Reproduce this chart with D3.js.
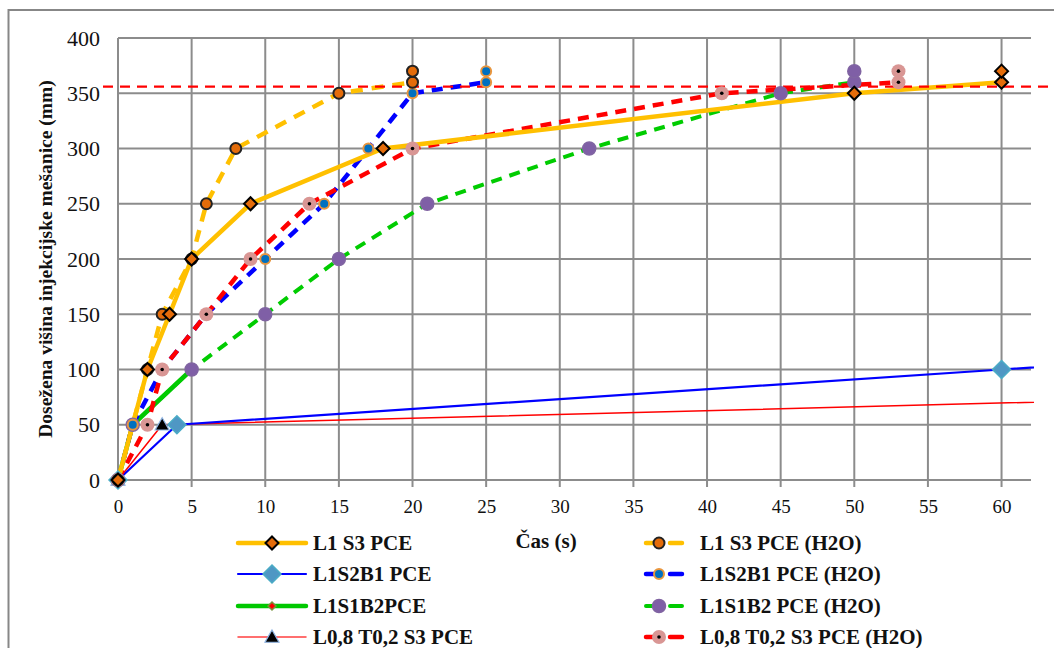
<!DOCTYPE html>
<html><head><meta charset="utf-8">
<script src="https://cdn.jsdelivr.net/npm/d3@7/dist/d3.min.js"></script>
<style>body{margin:0;background:#fff}svg{display:block}
text{font-family:"Liberation Serif","DejaVu Serif",serif !important;}</style>
</head><body>
<svg id="c" width="1054" height="648"></svg>
<script>
// ---- data ----
const xTicks = [0,5,10,15,20,25,30,35,40,45,50,55,60];
const yTicks = [0,50,100,150,200,250,300,350,400];
const refLevel = 356;

const s1_t = [0,2,3.5,5,9,18,50,60];           const s1_h = [0,100,150,200,250,300,350,360];
const s1_extraT = [60];                         const s1_extraH = [370];
const s2_t = [0,4,60,90];                        const s2_h = [0,50,100,127];
const s3_t = [0,1,5];                            const s3_h = [0,50,100];
const s4_t = [0,3,90];                           const s4_h = [0,50,80];
const s5_t = [0,2,3,5,6,8,15,20];                const s5_h = [0,100,150,200,250,300,350,360];
const s5_extraT = [20];                          const s5_extraH = [370];
const s6_t = [0,1,3,6,10,14,17,20,25];           const s6_h = [0,50,100,150,200,250,300,350,360];
const s6_extraT = [25];                          const s6_extraH = [370];
const s7_t = [0,1,5,10,15,21,32,45,50];          const s7_h = [0,50,100,150,200,250,300,350,360];
const s7_extraT = [50];                          const s7_extraH = [370];
const s8_t = [0,2,3,6,9,13,20,41,53];            const s8_h = [0,50,100,150,200,250,300,350,360];
const s8_extraT = [53];                          const s8_extraH = [370];

const legendLeft = ["L1 S3 PCE","L1S2B1 PCE","L1S1B2PCE","L0,8 T0,2 S3 PCE"];
const legendRight = ["L1 S3 PCE (H2O)","L1S2B1 PCE (H2O)","L1S1B2 PCE (H2O)","L0,8 T0,2 S3 PCE (H2O)"];

// ---- drawing ----
const svg = d3.select("#c");
const x = d3.scaleLinear().domain([0,62]).range([118,1031]);
const y = d3.scaleLinear().domain([0,400]).range([480,38]);

// outer frame
svg.append("rect").attr("x",8.5).attr("y",10).attr("width",1100).attr("height",700)
  .attr("fill","none").attr("stroke","#878787").attr("stroke-width",2);

// grid
const g = svg.append("g");
g.selectAll(".hg").data(yTicks).join("line")
  .attr("x1",x(0)).attr("x2",x(62)).attr("y1",d=>y(d)).attr("y2",d=>y(d))
  .attr("stroke","#8c8c8c").attr("stroke-width",2);
g.selectAll(".vg").data(xTicks).join("line")
  .attr("x1",d=>x(d)).attr("x2",d=>x(d)).attr("y1",y(400)).attr("y2",y(0)+7)
  .attr("stroke","#8c8c8c").attr("stroke-width",2);

// axes labels via d3 axes
const yAxis = d3.axisLeft(y).tickValues(yTicks).tickSize(0).tickPadding(18);
const ya = svg.append("g").attr("transform",`translate(${x(0)},0)`).call(yAxis);
ya.select(".domain").remove();
ya.selectAll("text").attr("font-size",22).attr("fill","#111");
const xAxis = d3.axisBottom(x).tickValues(xTicks).tickSize(0).tickPadding(20);
const xa = svg.append("g").attr("transform",`translate(0,${y(0)})`).call(xAxis);
xa.select(".domain").remove();
xa.selectAll("text").attr("font-size",19).attr("fill","#111");

svg.append("text").attr("transform","translate(52,259) rotate(-90)").attr("text-anchor","middle")
  .attr("font-weight","bold").attr("font-size",19.5).attr("fill","#111")
  .text("Dosežena višina injekcijske mešanice (mm)");
svg.append("text").attr("x",546).attr("y",548).attr("text-anchor","middle")
  .attr("font-weight","bold").attr("font-size",21).attr("fill","#111")
  .text("Čas (s)");

// clip
svg.append("clipPath").attr("id","clip").append("rect").attr("x",100).attr("y",0).attr("width",934).attr("height",600);

const line = d3.line().x(d=>x(d[0])).y(d=>y(d[1]));
const zip = (a,b)=>a.map((v,i)=>[v,b[i]]);
const L = svg.append("g").attr("clip-path","url(#clip)");

// horizontal reference
svg.append("line").attr("x1",103).attr("x2",1050).attr("y1",y(refLevel)).attr("y2",y(refLevel))
  .attr("stroke","#ff0000").attr("stroke-width",2.2).attr("stroke-dasharray","10,7");

const series = [
  {t:s3_t,h:s3_h,color:"#00c800",w:4.5,dash:null},
  {t:s4_t,h:s4_h,color:"#ff0000",w:1.5,dash:null},
  {t:s2_t,h:s2_h,color:"#0000ff",w:2.2,dash:null},
  {t:s7_t,h:s7_h,color:"#00cc00",w:4,dash:"11,8"},
  {t:s6_t,h:s6_h,color:"#0000ff",w:4.5,dash:"11,8"},
  {t:s8_t,h:s8_h,color:"#ff0000",w:4.5,dash:"11,8"},
  {t:s5_t,h:s5_h,color:"#ffc000",w:4.5,dash:"12,9"},
  {t:s1_t,h:s1_h,color:"#ffc000",w:4.5,dash:null},
];
series.forEach(s=>{
  L.append("path").attr("d",line(zip(s.t,s.h))).attr("fill","none")
   .attr("stroke",s.color).attr("stroke-width",s.w).attr("stroke-dasharray",s.dash)
   .attr("stroke-linejoin","round");
});

// markers
const M = svg.append("g");
function diamond(gp,px,py,r,fill,stroke,sw){
  gp.append("path").attr("d",`M${px},${py-r}L${px+r},${py}L${px},${py+r}L${px-r},${py}Z`)
    .attr("fill",fill).attr("stroke",stroke).attr("stroke-width",sw);
}
function circ(gp,px,py,r,fill,stroke,sw){
  gp.append("circle").attr("cx",px).attr("cy",py).attr("r",r).attr("fill",fill)
    .attr("stroke",stroke).attr("stroke-width",sw);
}
function tri(gp,px,py,r){
  gp.append("path").attr("d",`M${px},${py-r}L${px+r},${py+r*0.75}L${px-r},${py+r*0.75}Z`)
    .attr("fill","#000").attr("stroke","#8db3e2").attr("stroke-width",1.2);
}
const mk = {
  s1:(gp,px,py)=>diamond(gp,px,py,6.5,"#e46c0a","#000",2),
  s2:(gp,px,py)=>diamond(gp,px,py,9,"#4f97c4","#4bacc6",1.5),
  s3:(gp,px,py)=>diamond(gp,px,py,4,"#ff0000","#77933c",1.5),
  s4:(gp,px,py)=>tri(gp,px,py,7),
  s5:(gp,px,py)=>circ(gp,px,py,5.5,"#e46c0a","#222",2),
  s6:(gp,px,py)=>circ(gp,px,py,5,"#0070c0","#e9963e",2),
  s7:(gp,px,py)=>circ(gp,px,py,6.5,"#7f5fa6","#8064a2",1.5),
  s8:(gp,px,py)=>{circ(gp,px,py,7,"#d99694","none",0);circ(gp,px,py,1.8,"#000","none",0);},
};
const pts = (t,h)=>zip(t,h);
pts(s3_t,s3_h).forEach(d=>mk.s3(M,x(d[0]),y(d[1])));
pts(s4_t,s4_h).filter(d=>d[0]<=62).forEach(d=>mk.s4(M,x(d[0]),y(d[1])));
pts(s2_t,s2_h).filter(d=>d[0]<=62).forEach(d=>mk.s2(M,x(d[0]),y(d[1])));
pts(s7_t,s7_h).concat(pts(s7_extraT,s7_extraH)).forEach(d=>mk.s7(M,x(d[0]),y(d[1])));
pts(s6_t,s6_h).concat(pts(s6_extraT,s6_extraH)).forEach(d=>mk.s6(M,x(d[0]),y(d[1])));
pts(s8_t,s8_h).concat(pts(s8_extraT,s8_extraH)).forEach(d=>mk.s8(M,x(d[0]),y(d[1])));
pts(s5_t,s5_h).concat(pts(s5_extraT,s5_extraH)).forEach(d=>mk.s5(M,x(d[0]),y(d[1])));
pts(s1_t,s1_h).concat(pts(s1_extraT,s1_extraH)).forEach(d=>mk.s1(M,x(d[0]),y(d[1])));

// legend
const rowsY = [543,574,606,637];
const leftStyles = [
  {color:"#ffc000",w:4.5,m:"s1"},
  {color:"#0000ff",w:2.2,m:"s2"},
  {color:"#00c800",w:4.5,m:"s3"},
  {color:"#ff4040",w:1.5,m:"s4"},
];
const rightStyles = [
  {color:"#ffc000",w:4.5,m:"s5"},
  {color:"#0000ff",w:4.5,m:"s6"},
  {color:"#00cc00",w:4,m:"s7"},
  {color:"#ff0000",w:4.5,m:"s8"},
];
const LG = svg.append("g");
legendLeft.forEach((name,i)=>{
  const st = leftStyles[i], yy = rowsY[i];
  LG.append("line").attr("x1",238).attr("x2",306).attr("y1",yy).attr("y2",yy)
    .attr("stroke",st.color).attr("stroke-width",st.w).attr("stroke-linecap","round");
  mk[st.m](LG,272,yy);
  LG.append("text").attr("x",313).attr("y",yy+7).attr("font-weight","bold")
    .attr("font-size",21).attr("fill","#111").text(name);
});
legendRight.forEach((name,i)=>{
  const st = rightStyles[i], yy = rowsY[i];
  LG.append("line").attr("x1",643).attr("x2",691).attr("y1",yy).attr("y2",yy)
    .attr("stroke",st.color).attr("stroke-width",st.w).attr("stroke-dasharray","12,12")
    .attr("stroke-dashoffset",-3).attr("stroke-linecap","round");
  mk[st.m](LG,659,yy);
  LG.append("text").attr("x",700).attr("y",yy+7).attr("font-weight","bold")
    .attr("font-size",21).attr("fill","#111").text(name);
});
</script>
</body></html>
